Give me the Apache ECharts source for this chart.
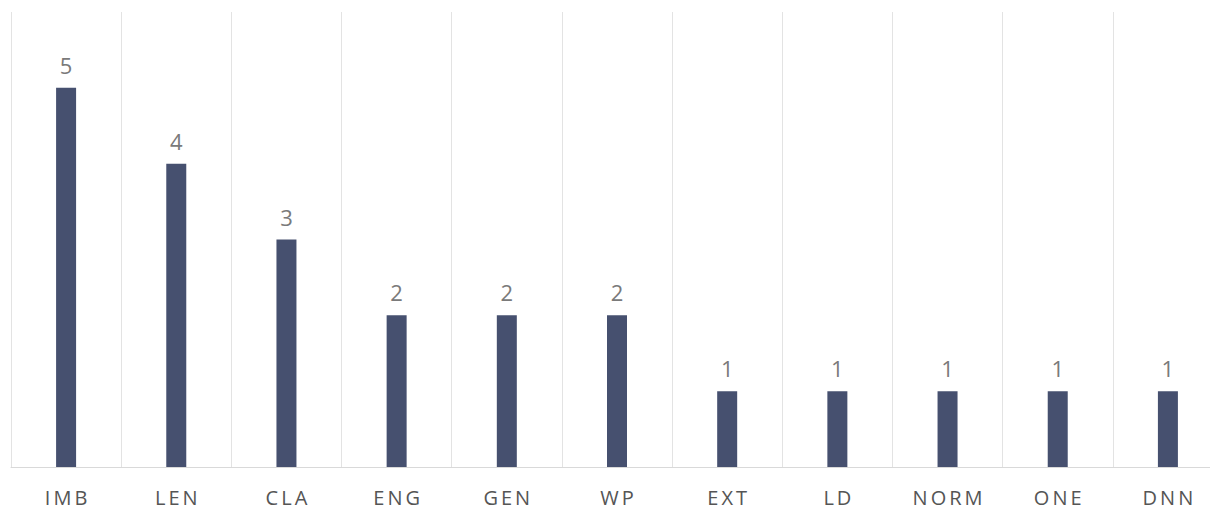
<!DOCTYPE html>
<html>
<head>
    <meta charset="utf-8">
    <title>Category counts</title>
    <script src="https://cdn.jsdelivr.net/npm/echarts@6.0.0/dist/echarts.min.js"></script>
    <style>
        html, body { margin: 0; padding: 0; background: #fff; }
        #chart { width: 1210px; height: 510px; overflow: hidden; }
        /* axis labels in the original are spaced out a little */
        #chart text { letter-spacing: 3px; }
    </style>
</head>
<body>
    <div id="chart"></div>
    <script>
        // data
        const categories = ['IMB', 'LEN', 'CLA', 'ENG', 'GEN', 'WP', 'EXT', 'LD', 'NORM', 'ONE', 'DNN'];
        const counts = [5, 4, 3, 2, 2, 2, 1, 1, 1, 1, 1];

        let chart = echarts.init(document.getElementById('chart'), null, { renderer: 'svg' });
        chart.setOption({
            animation: false,
            // last column runs a bit past the right edge, like the original
            grid: { left: 11, width: 1212, top: 12, height: 455, outerBoundsMode: 'none' },
            xAxis: {
                type: 'category',
                data: categories,
                axisLine: { lineStyle: { color: '#d9d9d9', width: 1 } },
                axisTick: { show: false },
                splitLine: { show: true, lineStyle: { color: '#e3e3e3', width: 1 } },
                axisLabel: {
                    color: '#555555',
                    fontFamily: 'Open Sans',
                    fontSize: 20,
                    margin: 20,
                    padding: [0, 0, 0, 3]
                }
            },
            yAxis: {
                type: 'value',
                min: 0,
                max: 6,
                show: false,
                splitLine: { show: false }
            },
            series: [{
                type: 'bar',
                data: counts,
                barWidth: 20,
                itemStyle: { color: '#46506f' },
                label: {
                    show: true,
                    position: 'top',
                    distance: 12,
                    color: '#7a7a7a',
                    fontFamily: 'Open Sans',
                    fontSize: 22,
                    padding: [0, 0, 0, 3]
                }
            }]
        });
    </script>
</body>
</html>
